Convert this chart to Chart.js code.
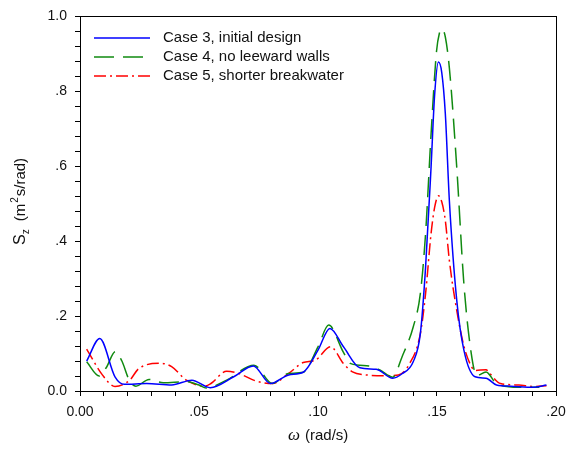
<!DOCTYPE html>
<html>
<head>
<meta charset="utf-8">
<script src="https://cdn.jsdelivr.net/npm/chart.js@4"></script>
<style>
  html, body { margin: 0; padding: 0; background: #fff; }
  #wrap { width: 570px; height: 450px; }
</style>
</head>
<body>
<div id="wrap"><canvas id="espectro"></canvas></div>
<script>
// frequencia (rad/s) e densidade espectral Sz para cada caso
const omega3 = [0.0028, 0.0083, 0.0147, 0.0186, 0.028, 0.0385, 0.047, 0.0547, 0.0646, 0.0728, 0.080, 0.0877, 0.0938, 0.100, 0.105, 0.1107, 0.1176, 0.1245, 0.1314, 0.1353, 0.140, 0.143, 0.1452, 0.1475, 0.149, 0.1506, 0.152, 0.1535, 0.1552, 0.1583, 0.1613, 0.166, 0.1706, 0.175, 0.181, 0.1905, 0.196];
const sz3 = [0.080, 0.140, 0.038, 0.018, 0.020, 0.016, 0.029, 0.009, 0.038, 0.067, 0.020, 0.043, 0.050, 0.109, 0.167, 0.118, 0.062, 0.058, 0.034, 0.046, 0.078, 0.153, 0.330, 0.597, 0.790, 0.878, 0.850, 0.740, 0.508, 0.242, 0.109, 0.038, 0.034, 0.016, 0.013, 0.010, 0.016];

const omega4 = [0.0028, 0.0081, 0.011, 0.0148, 0.0176, 0.0207, 0.0235, 0.029, 0.035, 0.0445, 0.050, 0.053, 0.0616, 0.0731, 0.0808, 0.0877, 0.0938, 0.100, 0.1045, 0.1107, 0.1138, 0.1214, 0.126, 0.1314, 0.1353, 0.140, 0.143, 0.1452, 0.1475, 0.1498, 0.151, 0.1521, 0.1535, 0.1552, 0.1583, 0.1613, 0.1644, 0.1667, 0.1706, 0.175, 0.1844, 0.193];
const sz4 = [0.078, 0.040, 0.062, 0.105, 0.080, 0.029, 0.013, 0.031, 0.022, 0.025, 0.016, 0.008, 0.029, 0.069, 0.020, 0.047, 0.050, 0.118, 0.176, 0.103, 0.073, 0.067, 0.056, 0.037, 0.091, 0.171, 0.260, 0.420, 0.685, 0.907, 0.955, 0.967, 0.945, 0.862, 0.597, 0.286, 0.100, 0.041, 0.051, 0.020, 0.010, 0.010];

const omega5 = [0.0028, 0.0094, 0.0147, 0.0209, 0.0247, 0.034, 0.0385, 0.0447, 0.0524, 0.055, 0.0616, 0.0662, 0.0738, 0.0808, 0.0877, 0.0938, 0.0988, 0.1053, 0.1107, 0.1145, 0.1199, 0.129, 0.1338, 0.1383, 0.143, 0.1452, 0.1475, 0.149, 0.1506, 0.152, 0.1535, 0.1552, 0.1583, 0.1613, 0.1644, 0.166, 0.1706, 0.172, 0.1767, 0.1844, 0.1905, 0.196];
const sz5 = [0.112, 0.043, 0.012, 0.029, 0.060, 0.074, 0.065, 0.029, 0.013, 0.020, 0.053, 0.048, 0.027, 0.020, 0.047, 0.076, 0.082, 0.118, 0.073, 0.051, 0.043, 0.041, 0.043, 0.071, 0.153, 0.260, 0.420, 0.490, 0.521, 0.505, 0.455, 0.348, 0.215, 0.120, 0.066, 0.055, 0.057, 0.048, 0.020, 0.016, 0.012, 0.014];

const legendas = ["Case 3, initial design", "Case 4, no leeward walls", "Case 5, shorter breakwater"];
const ticksX = [0, 0.05, 0.10, 0.15, 0.20];
const rotulosX = ["0.00", ".05", ".10", ".15", ".20"];
const ticksY = [0, 0.2, 0.4, 0.6, 0.8, 1.0];
const rotulosY = ["0.0", ".2", ".4", ".6", ".8", "1.0"];

function pontos(xs, ys) {
  return xs.map((x, i) => ({ x: x, y: ys[i] }));
}

function rotulo(valor, ticks, rotulos) {
  for (let i = 0; i < ticks.length; i++) {
    if (Math.abs(valor - ticks[i]) < 1e-6) return rotulos[i];
  }
  return "";
}

// moldura, legenda e titulos dos eixos
const extras = {
  id: "extras",
  afterDraw(chart) {
    const ctx = chart.ctx;
    const a = chart.chartArea;
    ctx.save();
    ctx.strokeStyle = "#000";
    ctx.lineWidth = 1;
    ctx.strokeRect(Math.round(a.left) + 0.5, Math.round(a.top) + 0.5, Math.round(a.right - a.left), Math.round(a.bottom - a.top));

    // legenda
    ctx.font = "15px Arial, 'Liberation Sans', sans-serif";
    ctx.textBaseline = "middle";
    ctx.fillStyle = "#111";
    chart.data.datasets.forEach((ds, i) => {
      const y = 38 + i * 19;
      ctx.strokeStyle = ds.borderColor;
      ctx.lineWidth = 1.5;
      ctx.setLineDash(ds.borderDash || []);
      ctx.beginPath();
      ctx.moveTo(94, y);
      ctx.lineTo(150, y);
      ctx.stroke();
      ctx.setLineDash([]);
      ctx.fillText(ds.label, 163, y);
    });

    // titulo do eixo y: S_z (m^2 s/rad)
    ctx.translate(25, 245);
    ctx.rotate(-Math.PI / 2);
    ctx.textBaseline = "alphabetic";
    let x = 0;
    ctx.font = "16px Arial, 'Liberation Sans', sans-serif";
    ctx.fillText("S", x, 0);
    x += ctx.measureText("S").width;
    ctx.font = "10px Arial, 'Liberation Sans', sans-serif";
    ctx.fillText("z", x, 4);
    x += ctx.measureText("z").width + 8;
    ctx.font = "15px Arial, 'Liberation Sans', sans-serif";
    ctx.fillText("(m", x, 0);
    x += ctx.measureText("(m").width + 1;
    ctx.font = "10px Arial, 'Liberation Sans', sans-serif";
    ctx.fillText("2", x, -7);
    x += ctx.measureText("2").width + 1;
    ctx.font = "15px Arial, 'Liberation Sans', sans-serif";
    ctx.fillText("s/rad)", x, 0);
    ctx.restore();

    // titulo do eixo x
    ctx.save();
    ctx.fillStyle = "#111";
    ctx.textBaseline = "alphabetic";
    ctx.font = "italic 17px 'Liberation Serif', serif";
    ctx.fillText("\u03c9", 288, 440);
    ctx.font = "15px Arial, 'Liberation Sans', sans-serif";
    ctx.fillText("(rad/s)", 305, 440);
    ctx.restore();
  }
};

const ctx = document.getElementById("espectro").getContext("2d");
const grafico = new Chart(ctx, {
  type: "line",
  data: {
    datasets: [
      {
        label: legendas[0],
        data: pontos(omega3, sz3),
        borderColor: "#0000ff",
        borderWidth: 1.5
      },
      {
        label: legendas[1],
        data: pontos(omega4, sz4),
        borderColor: "#108a10",
        borderWidth: 1.5,
        borderDash: [20, 9]
      },
      {
        label: legendas[2],
        data: pontos(omega5, sz5),
        borderColor: "#ff0000",
        borderWidth: 1.5,
        borderDash: [12, 4, 2, 4]
      }
    ]
  },
  options: {
    responsive: true,
    maintainAspectRatio: false,
    animation: false,
    layout: { padding: { top: 15, right: 14, left: 0, bottom: 0 } },
    elements: {
      point: { radius: 0 },
      line: { cubicInterpolationMode: "monotone", fill: false }
    },
    plugins: {
      legend: { display: false },
      tooltip: { enabled: false }
    },
    scales: {
      x: {
        type: "linear",
        min: 0,
        max: 0.2,
        afterFit: (s) => {
          s.height = 59;
          s.paddingLeft = 0;
          s.paddingRight = 0;
        },
        afterBuildTicks: (s) => {
          s.ticks = [];
          for (let i = 0; i <= 20; i++) s.ticks.push({ value: i / 100 });
        },
        border: { display: true, color: "#000", width: 1 },
        grid: { drawOnChartArea: false, drawTicks: true, tickLength: 5, color: "#000" },
        ticks: {
          autoSkip: false,
          maxRotation: 0,
          padding: 8,
          color: "#111",
          font: { family: "Arial, 'Liberation Sans', sans-serif", size: 14 },
          callback: (v) => rotulo(v, ticksX, rotulosX)
        }
      },
      y: {
        type: "linear",
        min: 0,
        max: 1,
        afterFit: (s) => { s.width = 80; },
        afterBuildTicks: (s) => {
          s.ticks = [];
          for (let i = 0; i <= 25; i++) s.ticks.push({ value: i * 0.04 });
        },
        border: { display: true, color: "#000", width: 1 },
        grid: { drawOnChartArea: false, drawTicks: true, tickLength: 5, color: "#000" },
        ticks: {
          autoSkip: false,
          padding: 8,
          color: "#111",
          font: { family: "Arial, 'Liberation Sans', sans-serif", size: 14 },
          callback: (v) => rotulo(v, ticksY, rotulosY)
        }
      }
    }
  },
  plugins: [extras]
});
</script>
</body>
</html>
